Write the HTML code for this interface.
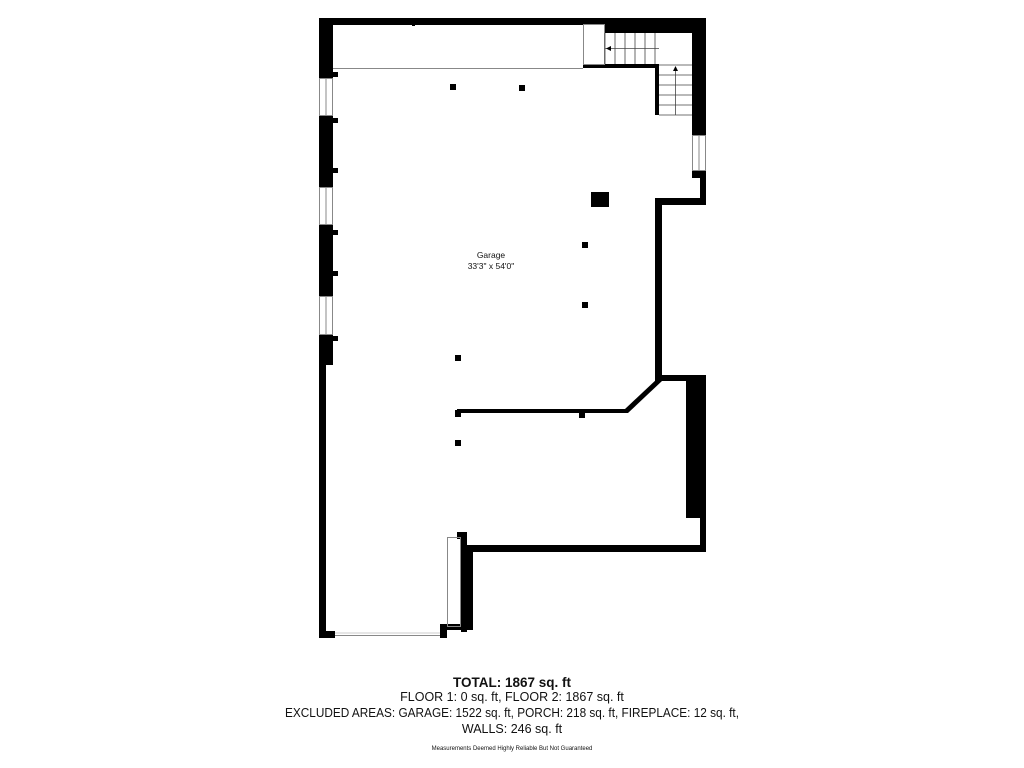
<!DOCTYPE html>
<html><head><style>
html,body{margin:0;padding:0;background:#fff;}
svg{display:block;}
text{font-family:"Liberation Sans",sans-serif;fill:#111;}
</style></head><body>
<svg width="1024" height="768" viewBox="0 0 1024 768" xmlns="http://www.w3.org/2000/svg">
<g fill="#000">
<rect x="319" y="18" width="387" height="7"/>
<rect x="605" y="18" width="101" height="15"/>
<rect x="319" y="18" width="14" height="60"/>
<rect x="333" y="72" width="5" height="5"/>
<rect x="319" y="115" width="14" height="72"/>
<rect x="333" y="118" width="5" height="5"/>
<rect x="333" y="168" width="5" height="5"/>
<rect x="319" y="224" width="14" height="72"/>
<rect x="333" y="230" width="5" height="5"/>
<rect x="333" y="271" width="5" height="5"/>
<rect x="319" y="334" width="14" height="31"/>
<rect x="333" y="336" width="5" height="5"/>
<rect x="319" y="360" width="7" height="278"/>
<rect x="319" y="631" width="16" height="7"/>
<rect x="440" y="624" width="7" height="14"/>
<rect x="440" y="624" width="33" height="6"/>
<rect x="466" y="545" width="7" height="85"/>
<rect x="457" y="532" width="10" height="7"/>
<rect x="461" y="532" width="6" height="100"/>
<rect x="466" y="545" width="240" height="7"/>
<rect x="700" y="518" width="6" height="34"/>
<rect x="686" y="375" width="20" height="143"/>
<rect x="655" y="375" width="51" height="6"/>
<rect x="655" y="198" width="7" height="183"/>
<rect x="655" y="198" width="51" height="7"/>
<rect x="700" y="170" width="6" height="35"/>
<rect x="692" y="170" width="14" height="8"/>
<rect x="692" y="18" width="14" height="117"/>
<rect x="583" y="64" width="76" height="4"/>
<rect x="655" y="64" width="4" height="51"/>
<rect x="457" y="409" width="168" height="4"/>
<polygon points="622,413 625,409 658,378 662,381 628,413"/>
<rect x="455" y="410" width="6" height="7"/>
<rect x="579" y="411" width="6" height="7"/>
<rect x="450" y="84" width="6" height="6"/>
<rect x="519" y="85" width="6" height="6"/>
<rect x="591" y="192" width="18" height="15"/>
<rect x="582" y="242" width="6" height="6"/>
<rect x="582" y="302" width="6" height="6"/>
<rect x="455" y="355" width="6" height="6"/>
<rect x="455" y="440" width="6" height="6"/>
<rect x="412" y="23" width="3" height="3"/>
</g>
<g fill="none" stroke="#888" stroke-width="1">
<line x1="333" y1="68.5" x2="583" y2="68.5"/>
<rect x="583.5" y="24.5" width="21" height="40"/>
<rect x="319.5" y="78.5" width="13" height="37"/><line x1="326" y1="78" x2="326" y2="115"/>
<rect x="319.5" y="187.5" width="13" height="37"/><line x1="326" y1="187" x2="326" y2="224"/>
<rect x="319.5" y="296.5" width="13" height="38"/><line x1="326" y1="296" x2="326" y2="334"/>
<rect x="692.5" y="135.5" width="13" height="35"/><line x1="699" y1="135" x2="699" y2="170"/>
<line x1="335" y1="635.5" x2="440" y2="635.5"/><line x1="335" y1="633" x2="440" y2="633" stroke="#ccc"/>
<rect x="447.5" y="537.5" width="13" height="89"/>
</g>
<g stroke="#444" stroke-width="0.8" fill="none">
<line x1="605" y1="33" x2="605" y2="64"/><line x1="615" y1="33" x2="615" y2="64"/>
<line x1="625" y1="33" x2="625" y2="64"/><line x1="635" y1="33" x2="635" y2="64"/>
<line x1="645" y1="33" x2="645" y2="64"/><line x1="655" y1="33" x2="655" y2="64"/>
<line x1="605" y1="48.5" x2="659" y2="48.5"/>
<line x1="659" y1="65" x2="692" y2="65"/>
<line x1="659" y1="75" x2="692" y2="75"/><line x1="659" y1="85" x2="692" y2="85"/>
<line x1="659" y1="95" x2="692" y2="95"/><line x1="659" y1="105" x2="692" y2="105"/>
<line x1="659" y1="115" x2="692" y2="115"/><line x1="675.5" y1="67" x2="675.5" y2="115"/>
</g>
<polygon points="606,48.5 611,46 611,51" fill="#000"/>
<polygon points="675.5,66 673,71 678,71" fill="#000"/>
<text x="491" y="258" font-size="8.5" text-anchor="middle">Garage</text>
<text x="491" y="269" font-size="8.5" text-anchor="middle">33'3" x 54'0"</text>
<text x="512" y="687" font-size="13.5" font-weight="bold" text-anchor="middle">TOTAL: 1867 sq. ft</text>
<text x="512" y="701" font-size="12.5" text-anchor="middle">FLOOR 1: 0 sq. ft, FLOOR 2: 1867 sq. ft</text>
<text x="512" y="717" font-size="12.5" text-anchor="middle" textLength="454" lengthAdjust="spacingAndGlyphs">EXCLUDED AREAS: GARAGE: 1522 sq. ft, PORCH: 218 sq. ft, FIREPLACE: 12 sq. ft,</text>
<text x="512" y="733" font-size="12.5" text-anchor="middle">WALLS: 246 sq. ft</text>
<text x="512" y="750" font-size="6" text-anchor="middle">Measurements Deemed Highly Reliable But Not Guaranteed</text>
</svg>
</body></html>
